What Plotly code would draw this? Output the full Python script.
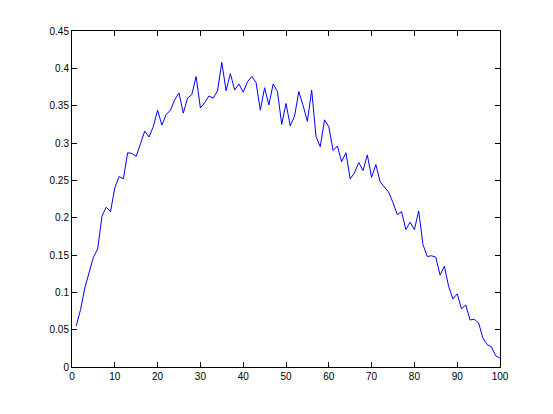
import plotly.graph_objects as go

x_vals = list(range(1, 101))
y_vals = [
    0.055, 0.077, 0.106, 0.128, 0.147, 0.158, 0.202, 0.214, 0.208, 0.240,
    0.255, 0.252, 0.287, 0.286, 0.282, 0.299, 0.316, 0.308, 0.322, 0.344,
    0.324, 0.338, 0.344, 0.358, 0.367, 0.340, 0.360, 0.365, 0.389, 0.347,
    0.354, 0.363, 0.360, 0.370, 0.408, 0.370, 0.393, 0.371, 0.379, 0.368,
    0.382, 0.389, 0.381, 0.344, 0.374, 0.351, 0.379, 0.369, 0.325, 0.353,
    0.323, 0.336, 0.369, 0.350, 0.329, 0.371, 0.309, 0.295, 0.331, 0.322,
    0.290, 0.296, 0.275, 0.287, 0.252, 0.260, 0.274, 0.263, 0.284, 0.254,
    0.271, 0.248, 0.241, 0.234, 0.220, 0.204, 0.208, 0.184, 0.194, 0.184,
    0.209, 0.164, 0.148, 0.149, 0.147, 0.123, 0.135, 0.108, 0.091, 0.098,
    0.078, 0.083, 0.063, 0.064, 0.059, 0.039, 0.030, 0.027, 0.015, 0.012,
]
x_ticks = [0, 10, 20, 30, 40, 50, 60, 70, 80, 90, 100]
y_ticks = [0, 0.05, 0.1, 0.15, 0.2, 0.25, 0.3, 0.35, 0.4, 0.45]
y_tick_text = ["0", "0.05", "0.1", "0.15", "0.2", "0.25", "0.3", "0.35", "0.4", "0.45"]

fig = go.Figure()
fig.add_trace(go.Scatter(x=x_vals, y=y_vals, mode="lines",
                         line=dict(color="#0000FF", width=1)))

axis_common = dict(
    showgrid=False, zeroline=False, showline=True, linecolor="black",
    linewidth=1, mirror="ticks", ticks="inside", ticklen=5, tickcolor="black",
    tickfont=dict(family="Liberation Sans, Arial, sans-serif", size=10, color="black"),
)
fig.update_xaxes(range=[0, 100], tickvals=x_ticks, ticktext=[str(t) for t in x_ticks], **axis_common)
fig.update_yaxes(range=[0, 0.45], tickvals=y_ticks, ticktext=y_tick_text, **axis_common)

fig.update_layout(
    width=553, height=414,
    margin=dict(l=64, r=61, t=23, b=55),
    paper_bgcolor="white", plot_bgcolor="white",
    showlegend=False,
)
fig.write_html("out.html")
